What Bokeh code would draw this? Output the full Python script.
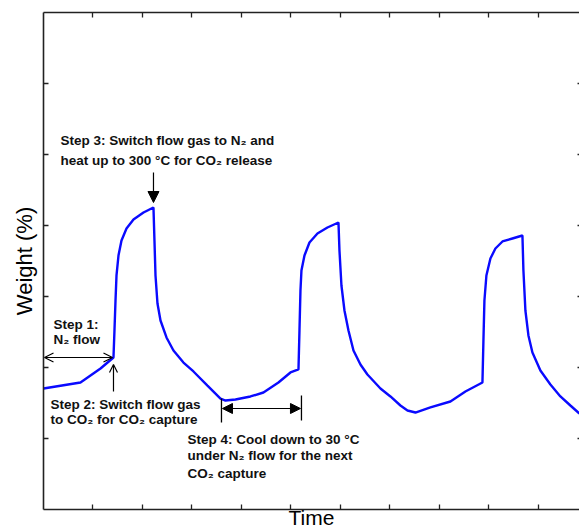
from bokeh.plotting import figure
from bokeh.models import (Range1d, LinearAxis, FixedTicker, Arrow, NormalHead,
                          OpenHead, Label, CustomJSTickFormatter)
from bokeh.embed import file_html
from bokeh.resources import INLINE

# ---- data (arbitrary units: time, weight) ----
time = [0.000, 0.747, 1.152, 1.414, 1.434, 1.455, 1.475, 1.515, 1.576, 1.677,
        1.818, 2.020, 2.222, 2.242, 2.263, 2.303, 2.364, 2.485, 2.626, 2.828,
        3.030, 3.313, 3.576, 3.677, 3.879, 4.182, 4.444, 4.747, 4.990, 5.152,
        5.172, 5.192, 5.212, 5.273, 5.374, 5.535, 5.737, 5.960, 5.980, 6.020,
        6.081, 6.162, 6.263, 6.404, 6.545, 6.808, 7.010, 7.212, 7.354, 7.515,
        7.818, 8.222, 8.525, 8.869, 8.889, 8.909, 8.949, 9.030, 9.131, 9.273,
        9.475, 9.677, 9.697, 9.737, 9.798, 9.879, 10.040, 10.242, 10.444,
        10.646, 10.828]
weight = [1.704, 1.789, 1.986, 2.141, 2.521, 2.944, 3.296, 3.577, 3.789, 3.958,
          4.085, 4.183, 4.254, 3.789, 3.296, 2.901, 2.662, 2.423, 2.239, 2.070,
          1.944, 1.746, 1.563, 1.535, 1.549, 1.592, 1.648, 1.789, 1.930, 1.972,
          2.521, 3.085, 3.366, 3.577, 3.761, 3.887, 3.972, 4.042, 3.648, 3.155,
          2.803, 2.521, 2.239, 2.042, 1.901, 1.704, 1.592, 1.465, 1.394, 1.366,
          1.437, 1.521, 1.662, 1.789, 2.380, 2.944, 3.296, 3.535, 3.676, 3.775,
          3.817, 3.859, 3.366, 2.803, 2.451, 2.211, 1.958, 1.761, 1.592,
          1.465, 1.352]
x_ticks = [1, 2, 3, 4, 5, 6, 7, 8, 9, 10]
y_ticks = [1, 2, 3, 4, 5, 6]

FONT = "Liberation Sans"
AX_FONT = "Liberation Sans"

p = figure(width=579, height=532, output_backend="svg", toolbar_location=None,
           x_range=Range1d(0, 10.83), y_range=Range1d(0, 7),
           min_border_left=43, min_border_top=12, min_border_bottom=23,
           min_border_right=0, background_fill_color="white",
           border_fill_color="white")
p.outline_line_color = None
p.grid.visible = False

blank = CustomJSTickFormatter(code="return ''")


def style(ax, ticks, tick_in=5, line=True):
    ax.ticker = FixedTicker(ticks=ticks)
    ax.formatter = blank
    ax.major_label_text_font_size = "0px"
    ax.major_label_standoff = 0
    ax.major_tick_in = tick_in
    ax.major_tick_out = 0
    ax.minor_tick_line_color = None
    ax.major_tick_line_color = "#222222"
    ax.major_tick_line_width = 1.3
    ax.axis_line_color = "#222222" if line else None
    ax.axis_line_width = 1.6


xa = p.xaxis[0]
ya = p.yaxis[0]
style(xa, x_ticks)
style(ya, y_ticks)
xa.axis_label = "Time"
xa.axis_label_text_font = AX_FONT
xa.axis_label_text_font_style = "normal"
xa.axis_label_text_font_size = "21px"
xa.axis_label_text_color = "black"
xa.axis_label_text_line_height = 0.85
xa.axis_label_standoff = -4
ya.axis_label = "Weight (%)"
ya.axis_label_text_font = AX_FONT
ya.axis_label_text_font_style = "normal"
ya.axis_label_text_font_size = "22px"
ya.axis_label_text_color = "black"
ya.axis_label_standoff = 7

top = LinearAxis()
style(top, x_ticks)
p.add_layout(top, "above")
right = LinearAxis()
style(right, y_ticks, tick_in=2, line=False)
p.add_layout(right, "right")

# ---- curve ----
p.line(time, weight, line_color="#0a0aff", line_width=2.4)


def px2x(px):
    return (px - 43) / 49.5


def px2y(py):
    return (509 - py) / 71


def note(px, py, txt):
    p.add_layout(Label(x=px2x(px), y=px2y(py), text=txt, text_font=FONT,
                       text_font_style="bold", text_font_size="13.5px",
                       text_align="left", text_baseline="middle",
                       text_color="#111111"))


note(60, 140, "Step 3: Switch flow gas to N\u2082 and")
note(60, 160, "heat up to 300 \u00b0C for CO\u2082 release")
note(53, 324, "Step 1:")
note(53, 339, "N\u2082 flow")
note(50, 404, "Step 2: Switch flow gas")
note(50, 419, "to CO\u2082 for CO\u2082 capture")
note(187, 439, "Step 4: Cool down to 30 \u00b0C")
note(187, 455, "under N\u2082 flow for the next")
note(187, 473, "CO\u2082 capture")

# ---- arrows ----
p.add_layout(Arrow(x_start=px2x(153), y_start=px2y(172), x_end=px2x(153),
                   y_end=px2y(202), line_width=1.2, line_color="black",
                   end=NormalHead(size=11, fill_color="black", line_color="black")))
p.add_layout(Arrow(x_start=px2x(113), y_start=px2y(391), x_end=px2x(113),
                   y_end=px2y(364), line_width=1.2, line_color="black",
                   end=OpenHead(size=8, line_width=1.2, line_color="black")))
p.add_layout(Arrow(x_start=px2x(44), y_start=px2y(357), x_end=px2x(112),
                   y_end=px2y(357), line_width=1.2, line_color="black",
                   start=OpenHead(size=9, line_width=1.2, line_color="black"),
                   end=OpenHead(size=9, line_width=1.2, line_color="black")))
p.add_layout(Arrow(x_start=px2x(222), y_start=px2y(408), x_end=px2x(300),
                   y_end=px2y(408), line_width=1.2, line_color="black",
                   start=NormalHead(size=10, fill_color="black", line_color="black"),
                   end=NormalHead(size=10, fill_color="black", line_color="black")))
p.segment(x0=[px2x(221), px2x(301)], y0=[px2y(398), px2y(395)],
          x1=[px2x(221), px2x(301)], y1=[px2y(422), px2y(420)],
          line_color="black", line_width=1.3)

open("out.html", "w").write(file_html(p, INLINE))
